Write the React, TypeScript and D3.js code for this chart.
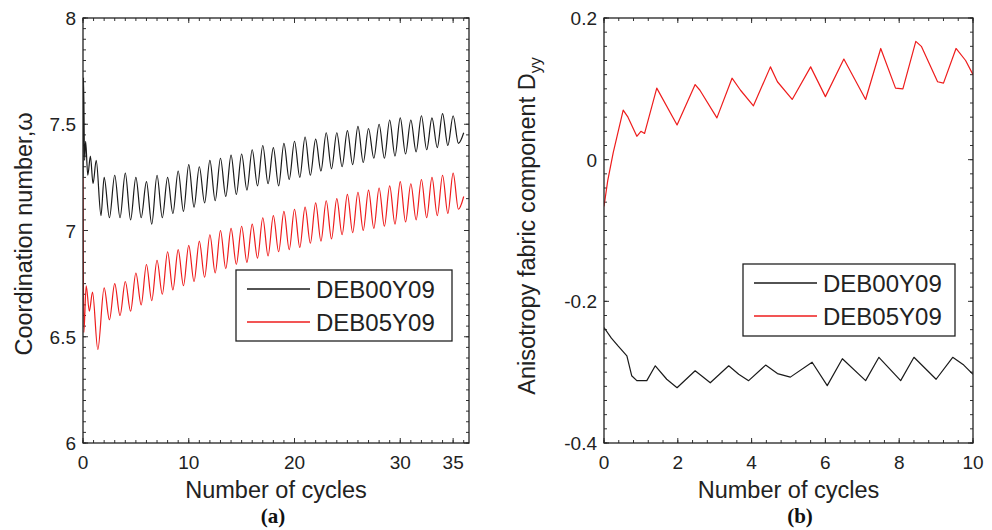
import React from "react";
import * as d3 from "d3";

// ---------- DATA ----------
// Panel (a): coordination number vs number of cycles
const aXTicks = [0, 10, 20, 30, 35];
const aYTicks = [6, 6.5, 7, 7.5, 8];
const deb00Coord: [number, number][] = [
  [0, 7.25], [0.05, 7.72], [0.15, 7.33], [0.25, 7.42], [0.45, 7.26], [0.7, 7.35], [0.95, 7.22], [1.25, 7.33], [1.7, 7.07],
  [2, 7.25], [2.5, 7.06], [3, 7.26], [3.5, 7.06], [4, 7.27], [4.5, 7.05], [5, 7.25], [5.5, 7.06], [6, 7.23], [6.5, 7.03],
  [7, 7.26], [7.5, 7.06], [8, 7.25], [8.5, 7.08], [9, 7.28], [9.5, 7.09], [10, 7.31], [10.5, 7.11], [11, 7.30], [11.5, 7.13],
  [12, 7.33], [12.5, 7.14], [13, 7.34], [13.5, 7.16], [14, 7.355], [14.5, 7.17], [15, 7.36], [15.5, 7.19], [16, 7.38], [16.5, 7.21],
  [17, 7.40], [17.5, 7.22], [18, 7.39], [18.5, 7.21], [19, 7.41], [19.5, 7.24], [20, 7.42], [20.5, 7.25], [21, 7.44], [21.5, 7.26],
  [22, 7.43], [22.5, 7.28], [23, 7.46], [23.5, 7.29], [24, 7.46], [24.5, 7.30], [25, 7.47], [25.5, 7.31], [26, 7.49], [26.5, 7.32],
  [27, 7.48], [27.5, 7.34], [28, 7.50], [28.5, 7.34], [29, 7.52], [29.5, 7.35], [30, 7.53], [30.5, 7.36], [31, 7.52], [31.5, 7.37],
  [32, 7.54], [32.5, 7.38], [33, 7.53], [33.5, 7.39], [34, 7.55], [34.5, 7.40], [35, 7.54], [35.5, 7.41], [36, 7.46],
];
const deb05Coord: [number, number][] = [
  [0, 7.25], [0.08, 6.52], [0.3, 6.74], [0.6, 6.62], [0.9, 6.71], [1.4, 6.44],
  [2, 6.73], [2.5, 6.58], [3, 6.75], [3.5, 6.60], [4, 6.76], [4.5, 6.62], [5, 6.80], [5.5, 6.65], [6, 6.84], [6.5, 6.67],
  [7, 6.86], [7.5, 6.70], [8, 6.90], [8.5, 6.72], [9, 6.91], [9.5, 6.74], [10, 6.93], [10.5, 6.76], [11, 6.95], [11.5, 6.78],
  [12, 6.98], [12.5, 6.80], [13, 7.00], [13.5, 6.82], [14, 7.01], [14.5, 6.84], [15, 7.02], [15.5, 6.85], [16, 7.03], [16.5, 6.87],
  [17, 7.06], [17.5, 6.88], [18, 7.07], [18.5, 6.90], [19, 7.09], [19.5, 6.91], [20, 7.10], [20.5, 6.92], [21, 7.11], [21.5, 6.94],
  [22, 7.13], [22.5, 6.95], [23, 7.14], [23.5, 6.96], [24, 7.15], [24.5, 6.98], [25, 7.17], [25.5, 6.99], [26, 7.18], [26.5, 7.00],
  [27, 7.19], [27.5, 7.01], [28, 7.20], [28.5, 7.02], [29, 7.21], [29.5, 7.03], [30, 7.23], [30.5, 7.04], [31, 7.22], [31.5, 7.05],
  [32, 7.24], [32.5, 7.06], [33, 7.25], [33.5, 7.07], [34, 7.26], [34.5, 7.08], [35, 7.27], [35.5, 7.10], [36, 7.16],
];

// Panel (b): anisotropy fabric component Dyy vs number of cycles
const bXTicks = [0, 2, 4, 6, 8, 10];
const bYTicks = [-0.4, -0.2, 0, 0.2];
const deb05Dyy: [number, number][] = [
  [0, -0.066], [0.1, -0.03], [0.25, 0.01], [0.52, 0.070], [0.65, 0.06], [0.89, 0.033], [1.0, 0.04], [1.1, 0.037],
  [1.43, 0.101], [1.98, 0.049], [2.47, 0.106], [2.6, 0.098], [3.06, 0.059], [3.47, 0.115], [3.7, 0.098], [4.05, 0.076],
  [4.51, 0.131], [4.7, 0.11], [5.1, 0.085], [5.6, 0.131], [6.0, 0.089], [6.5, 0.142], [7.09, 0.085], [7.5, 0.157],
  [7.9, 0.101], [8.1, 0.100], [8.45, 0.167], [8.6, 0.160], [9.04, 0.110], [9.2, 0.108], [9.54, 0.157], [9.8, 0.140], [10.0, 0.120],
];
const deb00Dyy: [number, number][] = [
  [0, -0.237], [0.2, -0.252], [0.38, -0.263], [0.62, -0.277], [0.75, -0.305], [0.89, -0.312], [1.16, -0.312], [1.39, -0.291],
  [1.7, -0.31], [1.98, -0.322], [2.47, -0.298], [2.88, -0.315], [3.38, -0.291], [3.65, -0.303], [3.92, -0.312], [4.38, -0.29],
  [4.7, -0.302], [5.05, -0.307], [5.64, -0.286], [6.05, -0.319], [6.46, -0.281], [7.09, -0.312], [7.45, -0.279], [8.04, -0.312],
  [8.4, -0.279], [9.0, -0.31], [9.45, -0.279], [9.75, -0.29], [10, -0.303],
];

const seriesNames = ["DEB00Y09", "DEB05Y09"];
const BLACK = "#1a1a1a";
const RED = "#ee1c1c";
const SANS = "'Liberation Sans', Arial, sans-serif";

type Box = { x0: number; x1: number; y0: number; y1: number };

function Panel(props: {
  box: Box;
  xDomain: [number, number];
  yDomain: [number, number];
  xTicks: number[];
  yTicks: number[];
  xMinorStep: number;
  yMinorStep: number;
  series: { data: [number, number][]; color: string }[];
  curve: any;
  yLabel: React.ReactNode;
  yLabelX: number;
  yLabelY: number;
  legend: { x0: number; y0: number; w: number; h: number };
  panelTag: string;
  tagX: number;
}) {
  const { box } = props;
  const x = d3.scaleLinear().domain(props.xDomain).range([box.x0, box.x1]);
  const y = d3.scaleLinear().domain(props.yDomain).range([box.y1, box.y0]);
  const line = d3
    .line<[number, number]>()
    .x((d) => x(d[0]))
    .y((d) => y(d[1]))
    .curve(props.curve);
  const eps = 1e-9;
  const xMinor = d3.range(props.xDomain[0], props.xDomain[1] + eps, props.xMinorStep);
  const yMinor = d3.range(props.yDomain[0], props.yDomain[1] + eps, props.yMinorStep);
  const MAJ = 5;
  const MIN = 3;
  const tickColor = "#333";
  const lg = props.legend;
  const fmtY = (v: number) => (Math.abs(v) < 1e-9 ? "0" : String(+v.toFixed(2)));
  return (
    <g>
      <defs>
        <clipPath id={"clip" + props.panelTag}>
          <rect x={box.x0} y={box.y0} width={box.x1 - box.x0} height={box.y1 - box.y0} />
        </clipPath>
      </defs>
      {/* minor ticks */}
      {xMinor.map((v, i) => (
        <g key={"xm" + i}>
          <line x1={x(v)} x2={x(v)} y1={box.y1} y2={box.y1 - MIN} stroke={tickColor} strokeWidth={1} />
          <line x1={x(v)} x2={x(v)} y1={box.y0} y2={box.y0 + MIN} stroke={tickColor} strokeWidth={1} />
        </g>
      ))}
      {yMinor.map((v, i) => (
        <g key={"ym" + i}>
          <line x1={box.x0} x2={box.x0 + MIN} y1={y(v)} y2={y(v)} stroke={tickColor} strokeWidth={1} />
          <line x1={box.x1} x2={box.x1 - MIN} y1={y(v)} y2={y(v)} stroke={tickColor} strokeWidth={1} />
        </g>
      ))}
      {/* major ticks and labels */}
      {props.xTicks.map((v) => (
        <g key={"xt" + v}>
          <line x1={x(v)} x2={x(v)} y1={box.y1} y2={box.y1 - MAJ} stroke={tickColor} strokeWidth={1} />
          <line x1={x(v)} x2={x(v)} y1={box.y0} y2={box.y0 + MAJ} stroke={tickColor} strokeWidth={1} />
          <text x={x(v)} y={box.y1 + 26} textAnchor="middle" fontFamily={SANS} fontSize={19} fill="#222">
            {v}
          </text>
        </g>
      ))}
      {props.yTicks.map((v) => (
        <g key={"yt" + v}>
          <line x1={box.x0} x2={box.x0 + MAJ} y1={y(v)} y2={y(v)} stroke={tickColor} strokeWidth={1} />
          <line x1={box.x1} x2={box.x1 - MAJ} y1={y(v)} y2={y(v)} stroke={tickColor} strokeWidth={1} />
          <text x={box.x0 - 7} y={y(v) + 7} textAnchor="end" fontFamily={SANS} fontSize={19} fill="#222">
            {fmtY(v)}
          </text>
        </g>
      ))}
      {/* series */}
      <g clipPath={`url(#clip${props.panelTag})`}>
        {props.series.map((s, i) => (
          <path key={i} d={line(s.data) || ""} fill="none" stroke={s.color} strokeWidth={1.2} strokeLinejoin="round" />
        ))}
      </g>
      {/* frame */}
      <rect x={box.x0} y={box.y0} width={box.x1 - box.x0} height={box.y1 - box.y0} fill="none" stroke="#222" strokeWidth={1.3} />
      {/* legend */}
      <rect x={lg.x0} y={lg.y0} width={lg.w} height={lg.h} fill="#fff" stroke="#222" strokeWidth={1.3} />
      {seriesNames.map((name, i) => {
        const ry = lg.y0 + 19 + i * 33;
        return (
          <g key={name}>
            <line x1={lg.x0 + 11} x2={lg.x0 + 74} y1={ry} y2={ry} stroke={i === 0 ? BLACK : RED} strokeWidth={1.4} />
            <text x={lg.x0 + 80} y={ry + 8.5} fontFamily={SANS} fontSize={24} fill="#222">
              {name}
            </text>
          </g>
        );
      })}
      {/* axis titles */}
      <text x={(box.x0 + box.x1) / 2} y={498} textAnchor="middle" fontFamily={SANS} fontSize={23.5} fill="#222">
        Number of cycles
      </text>
      <text
        transform={`translate(${props.yLabelX},${props.yLabelY}) rotate(-90)`}
        textAnchor="middle"
        fontFamily={SANS}
        fontSize={23.5}
        fill="#222"
      >
        {props.yLabel}
      </text>
      <text x={props.tagX} y={523} textAnchor="middle" fontFamily="'Liberation Serif', 'Times New Roman', serif" fontWeight="bold" fontSize={21} fill="#111">
        ({props.panelTag})
      </text>
    </g>
  );
}

export default function App() {
  return (
    <svg width={992} height={530} style={{ position: "absolute", left: 0, top: 0, background: "#fff" }}>
      <rect x={0} y={0} width={992} height={530} fill="#fff" />
      <Panel
        box={{ x0: 83, x1: 469, y0: 18, y1: 443 }}
        xDomain={[0, 36.5]}
        yDomain={[6, 8]}
        xTicks={aXTicks}
        yTicks={aYTicks}
        xMinorStep={1}
        yMinorStep={0.05}
        series={[
          { data: deb00Coord, color: BLACK },
          { data: deb05Coord, color: RED },
        ]}
        curve={d3.curveMonotoneX}
        yLabel={"Coordination number,ω"}
        yLabelX={32}
        yLabelY={234}
        legend={{ x0: 236, y0: 270, w: 216, h: 71 }}
        panelTag="a"
        tagX={273}
      />
      <Panel
        box={{ x0: 604, x1: 973, y0: 18, y1: 443 }}
        xDomain={[0, 10]}
        yDomain={[-0.4, 0.2]}
        xTicks={bXTicks}
        yTicks={bYTicks}
        xMinorStep={0.4}
        yMinorStep={0.02}
        series={[
          { data: deb00Dyy, color: BLACK },
          { data: deb05Dyy, color: RED },
        ]}
        curve={d3.curveLinear}
        yLabel={
          <>
            Anisotropy fabric component D
            <tspan fontSize={16} dy={6}>yy</tspan>
          </>
        }
        yLabelX={535}
        yLabelY={226}
        legend={{ x0: 743, y0: 264, w: 212, h: 72 }}
        panelTag="b"
        tagX={800}
      />
    </svg>
  );
}
